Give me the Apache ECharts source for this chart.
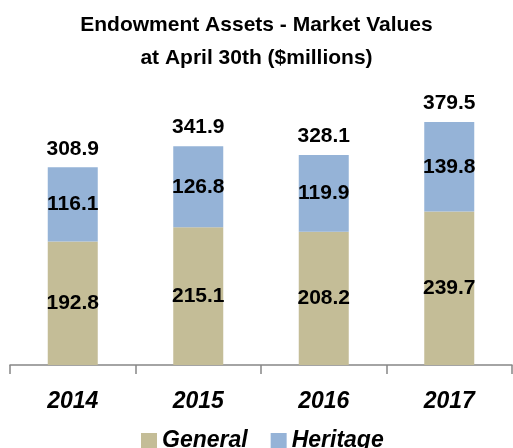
<!DOCTYPE html>
<html>
<head>
<meta charset="utf-8">
<script src="https://cdn.jsdelivr.net/npm/echarts@6/dist/echarts.min.js"></script>
<style>
  html, body { margin: 0; padding: 0; background: #fff; }
  #chart { width: 513px; height: 448px; }
</style>
</head>
<body>
<div id="chart"></div>
<script>
// values in $ millions
const years = ['2014', '2015', '2016', '2017'];
const general = [192.8, 215.1, 208.2, 239.7];
const heritage = [116.1, 126.8, 119.9, 139.8];
const totals = [308.9, 341.9, 328.1, 379.5];

const font = '"Liberation Sans", Arial, sans-serif';

const chart = echarts.init(document.getElementById('chart'), null, { renderer: 'canvas' });

const insideLabel = {
  show: true,
  position: 'inside',
  color: '#000',
  fontFamily: font,
  fontWeight: 'bold',
  fontSize: 21
};

chart.setOption({
  animation: false,
  title: {
    text: 'Endowment Assets - Market Values\nat April 30th ($millions)',
    left: 'center',
    top: 4,
    textStyle: {
      fontFamily: font,
      fontWeight: 'bold',
      fontSize: 21,
      lineHeight: 33,
      color: '#000'
    }
  },
  legend: {
    data: ['General', 'Heritage'],
    left: 136,
    top: 424,
    itemWidth: 16,
    itemHeight: 15,
    itemGap: 23,
    icon: 'rect',
    textStyle: {
      fontFamily: font,
      fontWeight: 'bold',
      fontStyle: 'italic',
      fontSize: 23,
      color: '#000'
    }
  },
  grid: { left: 10, right: 1, top: 109, bottom: 83 },
  xAxis: {
    type: 'category',
    data: years,
    axisLine: { lineStyle: { color: '#868686', width: 1.5 } },
    axisTick: { show: true, length: 9, lineStyle: { color: '#868686', width: 1.5 } },
    axisLabel: {
      margin: 25,
      color: '#000',
      fontFamily: font,
      fontWeight: 'bold',
      fontStyle: 'italic',
      fontSize: 23
    }
  },
  yAxis: {
    type: 'value',
    min: 0,
    max: 400,
    show: false,
    splitLine: { show: false }
  },
  series: [
    {
      name: 'General',
      type: 'bar',
      stack: 'total',
      barWidth: 50,
      data: general,
      itemStyle: { color: '#C4BD97' },
      label: insideLabel
    },
    {
      name: 'Heritage',
      type: 'bar',
      stack: 'total',
      barWidth: 50,
      data: heritage,
      itemStyle: { color: '#95B3D7' },
      label: insideLabel
    },
    {
      name: 'Total',
      type: 'bar',
      stack: 'total',
      barWidth: 50,
      data: totals.map(() => 0),
      itemStyle: { color: 'transparent' },
      label: {
        show: true,
        position: 'top',
        distance: 8,
        color: '#000',
        fontFamily: font,
        fontWeight: 'bold',
        fontSize: 21,
        formatter: (p) => totals[p.dataIndex].toFixed(1)
      }
    }
  ]
});
</script>
</body>
</html>
